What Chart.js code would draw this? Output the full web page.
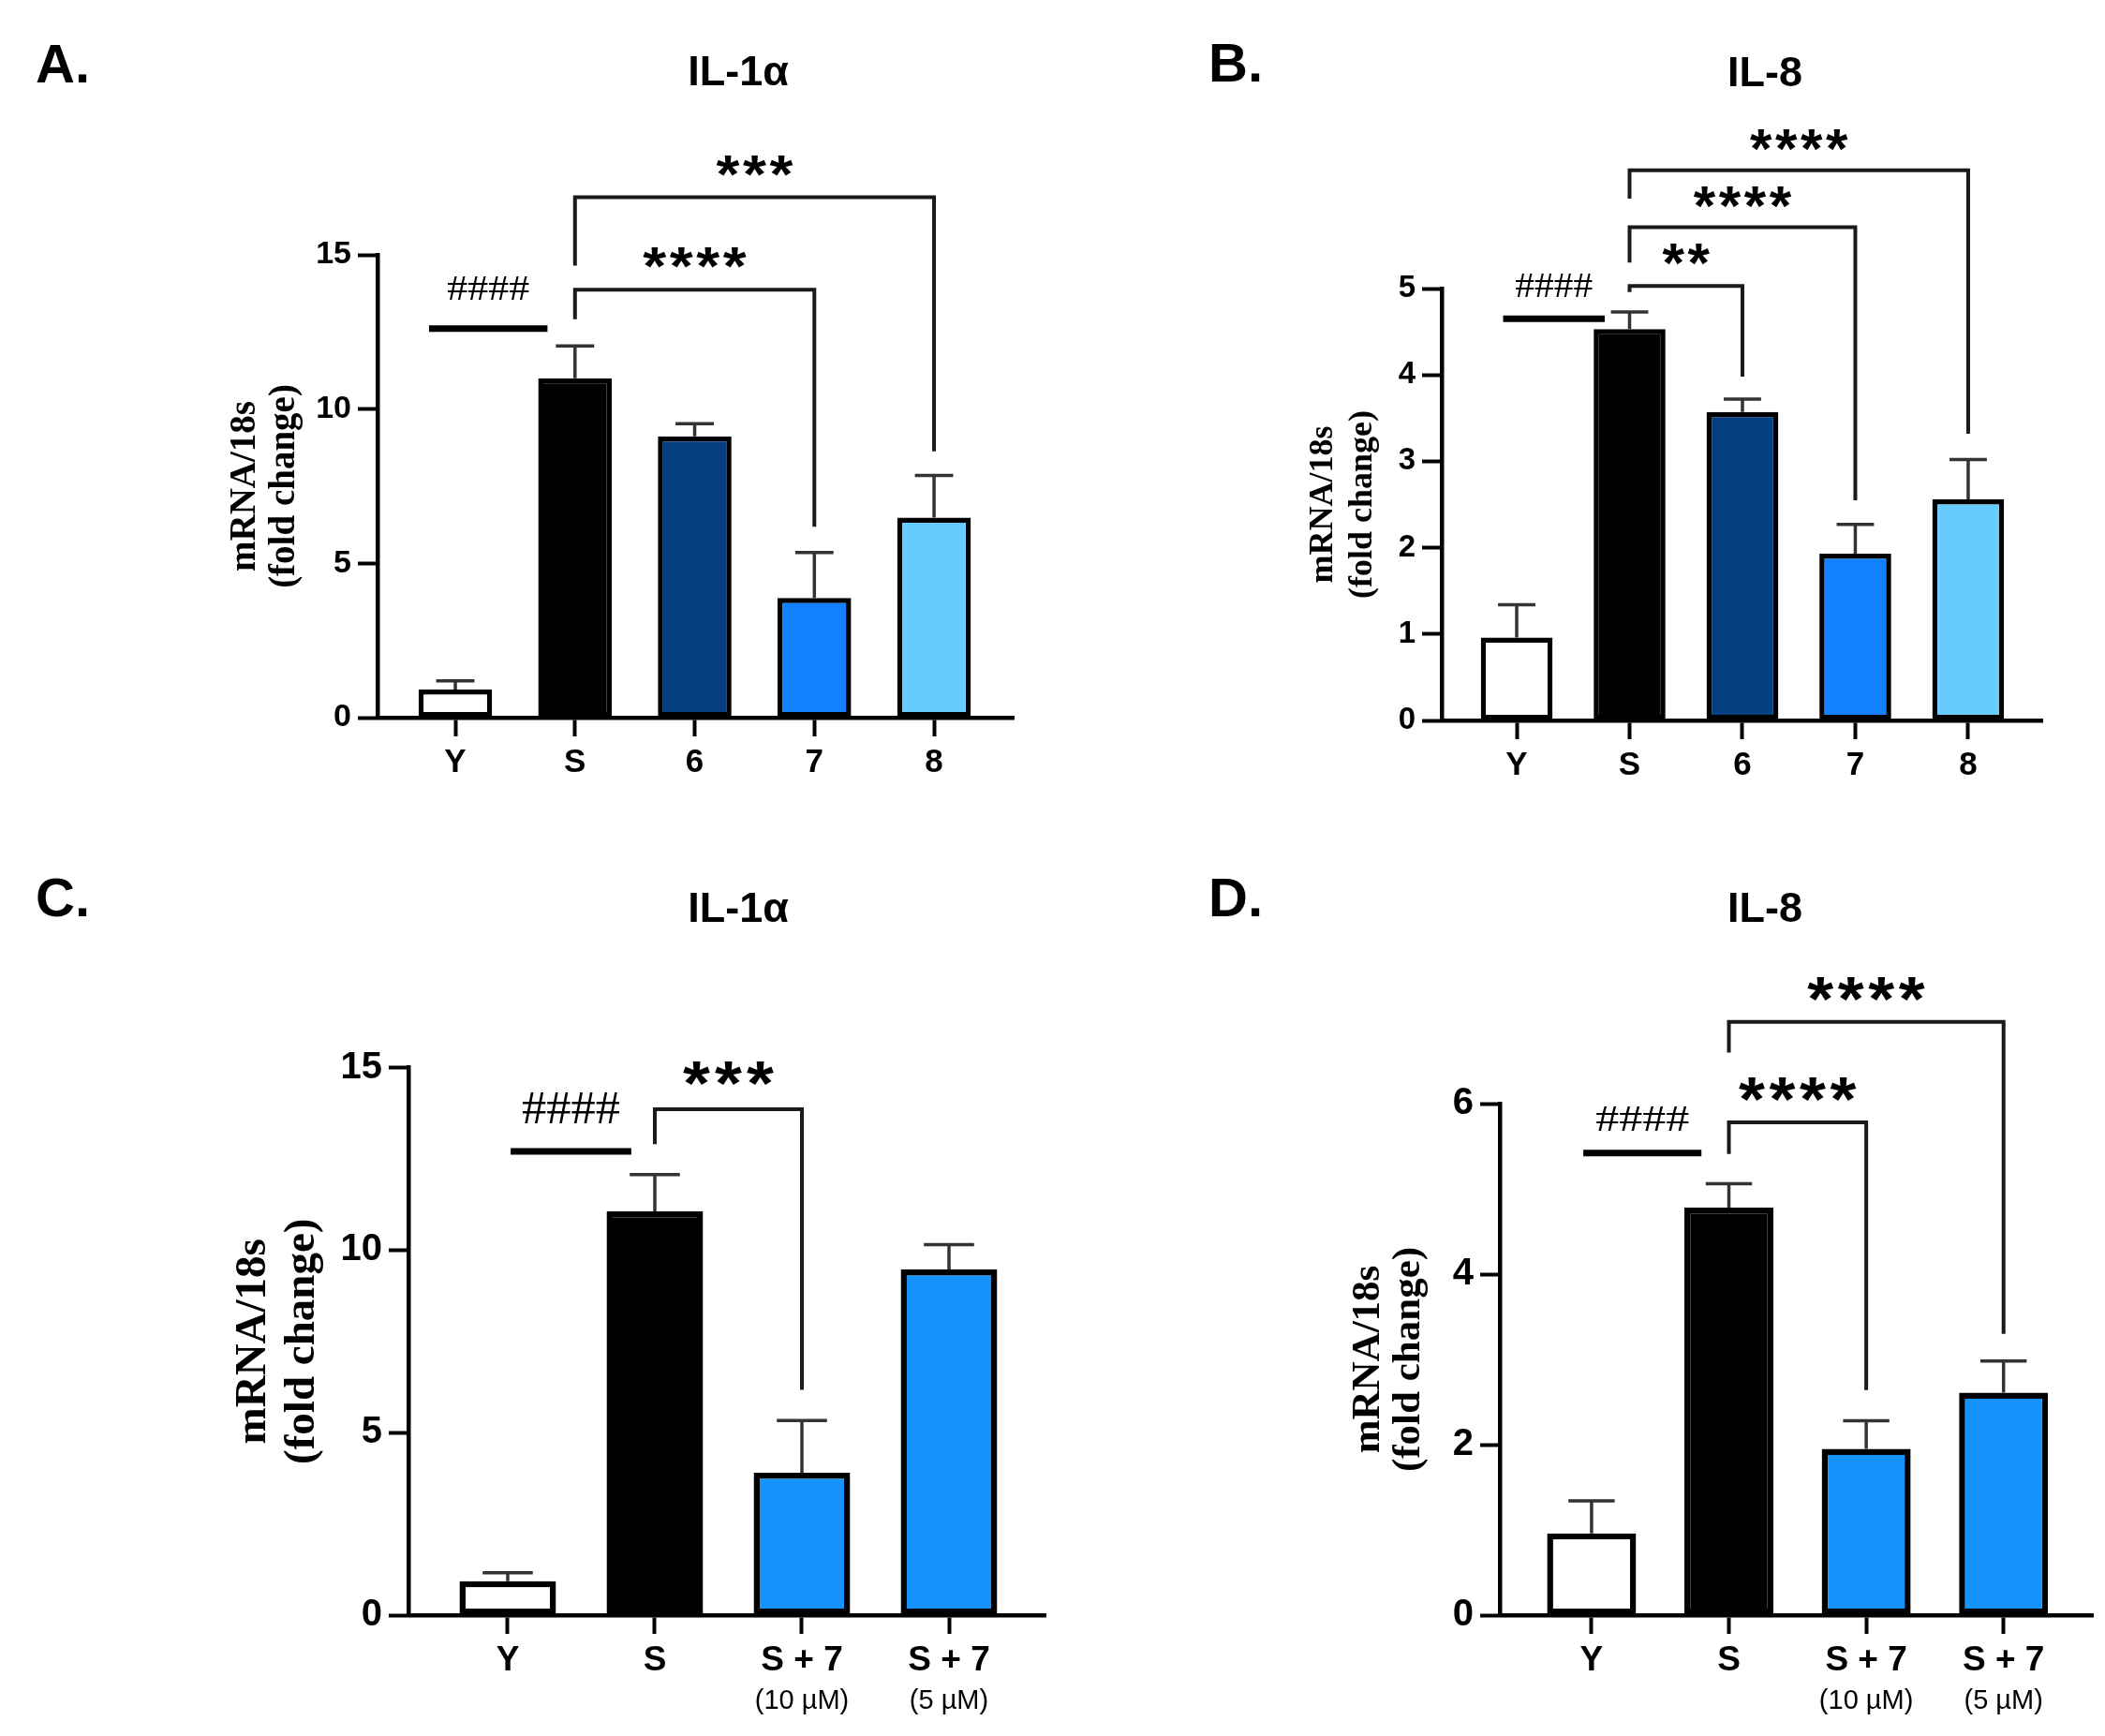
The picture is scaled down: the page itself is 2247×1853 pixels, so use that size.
<!DOCTYPE html>
<html><head><meta charset="utf-8">
<script src="https://cdn.jsdelivr.net/npm/chart.js@4.4.1/dist/chart.umd.min.js"></script>
<style>
html,body{margin:0;padding:0;background:#fff;}
body{width:2247px;height:1853px;position:relative;overflow:hidden;}
canvas{position:absolute;}
</style></head><body>
<canvas id="cA" width="1124" height="926" style="left:0px;top:0px;width:1124px;height:926px"></canvas>
<canvas id="cB" width="1123" height="926" style="left:1124px;top:0px;width:1123px;height:926px"></canvas>
<canvas id="cC" width="1124" height="927" style="left:0px;top:926px;width:1124px;height:927px"></canvas>
<canvas id="cD" width="1123" height="927" style="left:1124px;top:926px;width:1123px;height:927px"></canvas>
<script>
// ---------------- data ----------------
const categoriesTop = ['Y', 'S', '6', '7', '8'];
const categoriesBottom = ['Y', 'S', 'S + 7', 'S + 7'];
const subLabelsBottom = ['', '', '(10 µM)', '(5 µM)'];
const colorsTop = ['#ffffff', '#000000', '#063F80', '#1380FF', '#66CCFF'];
const colorsBottom = ['#ffffff', '#000000', '#1393FB', '#1393FB'];

const meanA = [0.91, 11.0, 9.12, 3.88, 6.48];
const semA  = [0.28, 1.05, 0.41, 1.47, 1.37];
const meanB = [0.96, 4.53, 3.57, 1.93, 2.56];
const semB  = [0.38, 0.20, 0.15, 0.34, 0.46];
const meanC = [0.93, 11.06, 3.90, 9.47];
const semC  = [0.23, 1.01, 1.43, 0.68];
const meanD = [0.96, 4.78, 1.95, 2.61];
const semD  = [0.38, 0.28, 0.33, 0.37];

const yTicksA = [0, 5, 10, 15];
const yTicksB = [0, 1, 2, 3, 4, 5];
const yTicksC = [0, 5, 10, 15];
const yTicksD = [0, 2, 4, 6];

const yTitle = ['mRNA/18s', '(fold change)'];

// hash annotation: [fromIndex, toIndex, lineValue, textValue, text]
const hashA = [-0.22, 0.77, 12.61, 13.9, '####'];
const hashB = [-0.12, 0.78, 4.65, 5.03, '####'];
const hashC = [0.02, 0.84, 12.7, 13.88, '####'];
const hashD = [-0.06, 0.80, 5.42, 5.83, '####'];

// brackets: [fromIndex, toIndex, topValue, leftEndValue, rightEndValue, labelValue, label]
const bracketsA = [[1, 3, 13.87, 12.91, 6.19, 14.9, '****'], [1, 4, 16.87, 14.65, 8.63, 17.87, '***']];
const bracketsB = [[1, 2, 5.03, 4.96, 3.98, 5.4, '**'], [1, 3, 5.71, 5.3, 2.55, 6.06, '****'], [1, 4, 6.37, 6.04, 3.32, 6.72, '****']];
const bracketsC = [[1, 2, 13.86, 12.9, 6.17, 14.86, '***']];
const bracketsD = [[1, 2, 5.78, 5.41, 2.64, 6.17, '****'], [1, 3, 6.96, 6.6, 3.3, 7.35, '****']];

// ---------------- layout (page pixels) ----------------
const layoutA = {cl:0, ct:0, cw:1124, ch:926, axisX:403, y0:766, yTop:272, right:1082, xMin:-0.65, xMax:4.665, barPct:0.615,
  yTickFont:34, xTickFont:35, yTitleFont:39, yTitleLH:1.08, yTitleX:262, hashW:87, hashH:25, starW:25, starH:22, starSp:28.5,
  barBorder:5.5, letterX:38, letterY:88, titleX:788, titleY:91};
const layoutB = {cl:1124, ct:0, cw:1123, ch:926, axisX:1539, y0:769, yTop:308, right:2180, xMin:-0.664, xMax:4.656, barPct:0.636,
  yTickFont:33, xTickFont:35, yTitleFont:36, yTitleLH:1.15, yTitleX:1413, hashW:82, hashH:24.7, starW:23.5, starH:22.5, starSp:27,
  barBorder:5.5, letterX:1290, letterY:87, titleX:1884, titleY:92};
const layoutC = {cl:0, ct:926, cw:1124, ch:927, axisX:436, y0:1724, yTop:1139.5, right:1116, xMin:-0.675, xMax:3.656, barPct:0.656,
  yTickFont:40, xTickFont:37, yTitleFont:47, yTitleLH:1.11, yTitleX:271, hashW:104, hashH:33, starW:29, starH:25.5, starSp:34,
  barBorder:6.5, letterX:38, letterY:978, titleX:788, titleY:984, subFont:29, subDy:92};
const layoutD = {cl:1124, ct:926, cw:1123, ch:927, axisX:1601, y0:1724, yTop:1178, right:2234, xMin:-0.668, xMax:3.65, barPct:0.648,
  yTickFont:40, xTickFont:37, yTitleFont:43, yTitleLH:1.0, yTitleX:1461, hashW:99, hashH:27, starW:28, starH:25.5, starSp:32.5,
  barBorder:6.5, letterX:1290, letterY:978, titleX:1884, titleY:984, subFont:29, subDy:92};

const SANS = '"Liberation Sans", Arial, Helvetica, sans-serif';
const SERIF = '"Liberation Serif", "Times New Roman", serif';

function fitText(ctx, text, font100, cx, cy, targetW, targetH) {
  ctx.save();
  ctx.font = font100;
  const m = ctx.measureText(text);
  const w = m.actualBoundingBoxLeft + m.actualBoundingBoxRight;
  const h = m.actualBoundingBoxAscent + m.actualBoundingBoxDescent;
  ctx.translate(cx, cy);
  ctx.scale(targetW / w, targetH / h);
  ctx.textAlign = 'left';
  ctx.textBaseline = 'alphabetic';
  ctx.fillStyle = '#000';
  ctx.fillText(text, (m.actualBoundingBoxLeft - m.actualBoundingBoxRight) / 2, (m.actualBoundingBoxAscent - m.actualBoundingBoxDescent) / 2);
  ctx.restore();
}

function makePanel(canvasId, cats, subs, colors, means, sems, yTicks, hash, brackets, letter, title, L) {
  const annot = {
    id: 'annot' + canvasId,
    afterDatasetsDraw(chart) {
      const ctx = chart.ctx;
      const xs = chart.scales.x, ys = chart.scales.y;
      const meta = chart.getDatasetMeta(0);
      ctx.save();
      // error bars (upper, SEM)
      ctx.strokeStyle = '#333';
      ctx.lineWidth = 3.5;
      ctx.lineCap = 'butt';
      meta.data.forEach((bar, i) => {
        const yErr = ys.getPixelForValue(means[i] + sems[i]);
        const half = bar.width * 0.26;
        ctx.beginPath();
        ctx.moveTo(bar.x, bar.y);
        ctx.lineTo(bar.x, yErr);
        ctx.moveTo(bar.x - half, yErr);
        ctx.lineTo(bar.x + half, yErr);
        ctx.stroke();
      });
      // hash line + text
      ctx.strokeStyle = '#000';
      ctx.lineWidth = 7;
      const hx1 = xs.getPixelForValue(hash[0]), hx2 = xs.getPixelForValue(hash[1]);
      const hy = ys.getPixelForValue(hash[2]);
      ctx.beginPath(); ctx.moveTo(hx1, hy); ctx.lineTo(hx2, hy); ctx.stroke();
      fitText(ctx, hash[4], '100px ' + SERIF, (hx1 + hx2) / 2, ys.getPixelForValue(hash[3]), L.hashW, L.hashH);
      // brackets
      ctx.strokeStyle = '#1a1a1a';
      ctx.lineWidth = 4;
      ctx.lineJoin = 'miter';
      brackets.forEach(b => {
        const xa = xs.getPixelForValue(b[0]), xb = xs.getPixelForValue(b[1]);
        const yt = ys.getPixelForValue(b[2]);
        ctx.beginPath();
        ctx.moveTo(xa, ys.getPixelForValue(b[3]));
        ctx.lineTo(xa, yt);
        ctx.lineTo(xb, yt);
        ctx.lineTo(xb, ys.getPixelForValue(b[4]));
        ctx.stroke();
        const n = b[6].length;
        const cx = (xa + xb) / 2, cy = ys.getPixelForValue(b[5]);
        for (let k = 0; k < n; k++) {
          fitText(ctx, '*', 'bold 100px ' + SANS, cx + (k - (n - 1) / 2) * L.starSp, cy, L.starW, L.starH);
        }
      });
      ctx.restore();
    },
    afterDraw(chart) {
      const ctx = chart.ctx;
      const xs = chart.scales.x;
      ctx.save();
      ctx.fillStyle = '#000';
      ctx.textBaseline = 'alphabetic';
      ctx.textAlign = 'left';
      ctx.font = 'bold 58px ' + SANS;
      ctx.fillText(letter, L.letterX - L.cl, L.letterY - L.ct);
      ctx.textAlign = 'center';
      ctx.font = 'bold 45px ' + SANS;
      ctx.fillText(title, L.titleX - L.cl, L.titleY - L.ct);
      if (subs) {
        ctx.font = L.subFont + 'px ' + SANS;
        ctx.textBaseline = 'middle';
        subs.forEach((s, i) => {
          if (s) ctx.fillText(s, xs.getPixelForValue(i), L.y0 - L.ct + L.subDy);
        });
      }
      ctx.restore();
    }
  };

  return new Chart(document.getElementById(canvasId), {
    type: 'bar',
    data: {
      datasets: [{
        data: means.map((v, i) => ({x: i, y: v})),
        backgroundColor: colors,
        borderColor: '#000',
        borderWidth: L.barBorder,
        borderSkipped: false,
        categoryPercentage: 1,
        barPercentage: L.barPct
      }]
    },
    options: {
      responsive: false,
      maintainAspectRatio: false,
      devicePixelRatio: 1,
      animation: false,
      events: [],
      layout: {padding: {left: 0, top: L.yTop - L.ct, right: L.cl + L.cw - L.right, bottom: 0}},
      plugins: {legend: {display: false}, tooltip: {enabled: false}, title: {display: false}},
      scales: {
        x: {
          type: 'linear', min: L.xMin, max: L.xMax, offset: false,
          afterBuildTicks: s => { s.ticks = cats.map((c, i) => ({value: i})); },
          afterFit: s => { s.height = L.ct + L.ch - L.y0; },
          ticks: {
            callback: v => cats[v],
            font: {family: SANS, weight: 'bold', size: L.xTickFont},
            color: '#000', padding: 7, autoSkip: false, maxRotation: 0, minRotation: 0
          },
          grid: {display: true, drawOnChartArea: false, drawTicks: true, tickLength: 20, tickWidth: 4, tickColor: '#000', color: '#000', offset: false},
          border: {display: true, width: 4.5, color: '#000'}
        },
        y: {
          type: 'linear', min: 0, max: yTicks[yTicks.length - 1],
          afterBuildTicks: s => { s.ticks = yTicks.map(v => ({value: v})); },
          afterFit: s => { s.width = L.axisX - L.cl; },
          ticks: {font: {family: SANS, weight: 'bold', size: L.yTickFont}, color: '#000', padding: 7},
          grid: {display: true, drawOnChartArea: false, drawTicks: true, tickLength: 21, tickWidth: 4, tickColor: '#000', color: '#000'},
          border: {display: true, width: 4.5, color: '#000'},
          title: {
            display: true, text: yTitle, color: '#000',
            font: {family: SERIF, weight: 'bold', size: L.yTitleFont, lineHeight: L.yTitleLH},
            padding: {top: L.yTitleX - L.cl - L.yTitleFont * L.yTitleLH / 2, bottom: 0}
          }
        }
      }
    },
    plugins: [annot]
  });
}

makePanel('cA', categoriesTop, null, colorsTop, meanA, semA, yTicksA, hashA, bracketsA, 'A.', 'IL-1α', layoutA);
makePanel('cB', categoriesTop, null, colorsTop, meanB, semB, yTicksB, hashB, bracketsB, 'B.', 'IL-8', layoutB);
makePanel('cC', categoriesBottom, subLabelsBottom, colorsBottom, meanC, semC, yTicksC, hashC, bracketsC, 'C.', 'IL-1α', layoutC);
makePanel('cD', categoriesBottom, subLabelsBottom, colorsBottom, meanD, semD, yTicksD, hashD, bracketsD, 'D.', 'IL-8', layoutD);
</script>
</body></html>
